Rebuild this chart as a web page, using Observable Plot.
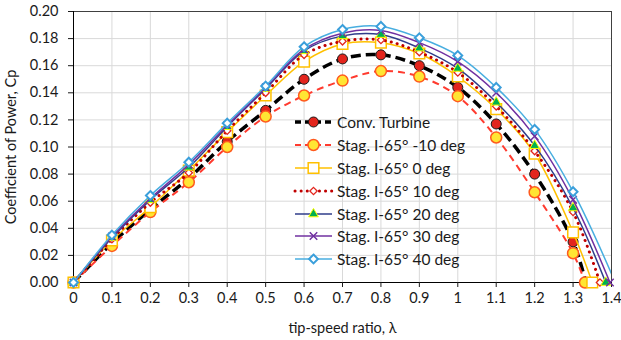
<!DOCTYPE html>
<html><head><meta charset="utf-8">
<script src="https://cdn.jsdelivr.net/npm/d3@7"></script>
<script src="https://cdn.jsdelivr.net/npm/@observablehq/plot@0.6"></script>
<style>
body{margin:0;background:#fff;}
#wrap{position:relative;width:621px;height:340px;font-family:Lato,"Open Sans",sans-serif;}
#wrap svg text{font-size:14.5px;}
#legend{position:absolute;left:294px;top:111px;}
.row{display:flex;align-items:center;height:22.8px;}
.row span{font-size:15.5px;color:#1a1a1a;margin-left:3px;white-space:nowrap;}
</style></head><body><div id="wrap"><div id="legend"></div></div>
<script>
// ---- data ----
const lambdas = [0,0.1,0.2,0.3,0.4,0.5,0.6,0.7,0.8,0.9,1.0,1.1,1.2,1.3];
const seriesNames = ["Conv. Turbine","Stag. I-65° -10 deg","Stag. I-65° 0 deg","Stag. I-65° 10 deg","Stag. I-65° 20 deg","Stag. I-65° 30 deg","Stag. I-65° 40 deg"];
const cpConv  = [0,0.029,0.054,0.077,0.104,0.127,0.150,0.165,0.168,0.160,0.144,0.117,0.080,0.030];
const cpM10   = [0,0.027,0.052,0.074,0.100,0.1225,0.138,0.149,0.156,0.152,0.1375,0.107,0.0666,0.0216];
const cp0     = [0,0.031,0.0556,0.0826,0.111,0.138,0.163,0.176,0.177,0.169,0.152,0.128,0.095,0.037];
const cp10    = [0,0.032,0.059,0.081,0.112,0.140,0.168,0.178,0.179,0.170,0.155,0.130,0.097,0.052];
const cp20    = [0,0.033,0.061,0.085,0.115,0.143,0.171,0.182,0.183,0.173,0.158,0.133,0.101,0.055];
const cp30    = [0,0.034,0.062,0.087,0.116,0.144,0.172,0.184,0.186,0.177,0.163,0.140,0.108,0.061];
const cp40    = [0,0.035,0.0642,0.0888,0.1176,0.145,0.174,0.1867,0.189,0.1806,0.1675,0.144,0.113,0.067];
const endLambda = [1.333,1.331,1.35,1.37,1.385,1.396,1.41]; // each curve ends at Cp = 0
const xTicks = [0,0.1,0.2,0.3,0.4,0.5,0.6,0.7,0.8,0.9,1,1.1,1.2,1.3,1.4];
const yTicks = [0,0.02,0.04,0.06,0.08,0.10,0.12,0.14,0.16,0.18,0.20];

// ---- styles ----
const styles = [
  {line:"#000", w:3.5, dash:"10,5", cap:"butt", sym:"circle", r:5, fill:"#E3251D", mstroke:"#1a1a1a", mw:1},
  {line:"#FF3B2F", w:2, dash:"7,5", cap:"butt", sym:"circle", r:5.5, fill:"#FFE533", mstroke:"#FF5A1E", mw:1.5},
  {line:"#FFC000", w:1.5, dash:null, cap:"butt", sym:"square", r:6, fill:"#fff", mstroke:"#FFC000", mw:1.5},
  {line:"#C00000", w:3, dash:"0.1,6", cap:"round", sym:"diamond2", r:3.3, fill:"#fff", mstroke:"#E3251D", mw:1.3},
  {line:"#2F3D8A", w:1.5, dash:null, cap:"butt", sym:"triangle", r:3.6, fill:"#00B050", mstroke:"#FFFF00", mw:1},
  {line:"#7030A0", w:1.5, dash:null, cap:"butt", sym:"times", r:3.5, fill:"none", mstroke:"#7030A0", mw:1.5},
  {line:"#48AEE0", w:1.5, dash:null, cap:"butt", sym:"diamond2", r:4, fill:"#fff", mstroke:"#3A9FDB", mw:2}
];

const cps = [cpConv,cpM10,cp0,cp10,cp20,cp30,cp40];
const seriesData = cps.map((cp,i) => [...lambdas.map((l,j)=>({x:l,y:cp[j]})), {x:endLambda[i], y:0}]);

const marks = [
  Plot.gridX(xTicks, {stroke:"#d9d9d9", strokeOpacity:1}),
  Plot.gridY(yTicks, {stroke:"#d9d9d9", strokeOpacity:1}),
  Plot.frame({stroke:"#404040"}),
  Plot.ruleX([0], {stroke:"#000"}),
  Plot.ruleY([0], {stroke:"#000"}),
  Plot.axisX(xTicks, {tickSize:5, tickPadding:5, tickFormat:d=>String(d), label:"tip-speed ratio, λ", labelAnchor:"center", labelArrow:"none", labelOffset:50}),
  Plot.axisY(yTicks, {tickSize:5, tickPadding:10, tickFormat:d3.format(".2f"), label:"Coefficient of Power, Cp", labelAnchor:"center", labelArrow:"none", labelOffset:68})
];
seriesData.forEach((data,i) => {
  const s = styles[i];
  marks.push(Plot.line(data, {x:"x", y:"y", stroke:s.line, strokeWidth:s.w, strokeDasharray:s.dash, strokeLinecap:s.cap, curve:"catmull-rom", clip:true}));
  marks.push(Plot.dot(data.filter(d=>d.x<=1.4), {x:"x", y:"y", symbol:s.sym, r:s.r, fill:s.fill, stroke:s.mstroke, strokeWidth:s.mw}));
});

const chart = Plot.plot({
  width:621, height:340,
  marginLeft:73, marginRight:10, marginTop:11, marginBottom:58,
  x:{domain:[0,1.4]}, y:{domain:[0,0.2]},
  style:{fontFamily:"Lato, 'Open Sans', sans-serif", fontSize:"14.5px", color:"#1a1a1a", background:"#fff", overflow:"visible"},
  marks
});
document.getElementById("wrap").prepend(chart);

// ---- legend (HTML overlay) ----
const leg = document.getElementById("legend");
const symPath = (sym, r) => {
  const map = {circle:d3.symbolCircle, square:d3.symbolSquare, diamond2:d3.symbolDiamond2, triangle:d3.symbolTriangle, times:d3.symbolTimes};
  return d3.symbol(map[sym], Math.PI*r*r)();
};
seriesNames.forEach((name,i) => {
  const s = styles[i];
  const row = document.createElement("div"); row.className = "row";
  row.innerHTML = `<svg width="40" height="22" style="overflow:visible">
    <line x1="1" y1="11" x2="38" y2="11" stroke="${s.line}" stroke-width="${s.w}" ${s.dash?`stroke-dasharray="${i<2?'6,4':s.dash}"`:''} stroke-linecap="${s.cap}"/>
    <path transform="translate(19.5,11)" d="${symPath(s.sym,s.r)}" fill="${s.fill}" stroke="${s.mstroke}" stroke-width="${s.mw}"/>
  </svg><span>${name}</span>`;
  leg.appendChild(row);
});
</script>
</body></html>
